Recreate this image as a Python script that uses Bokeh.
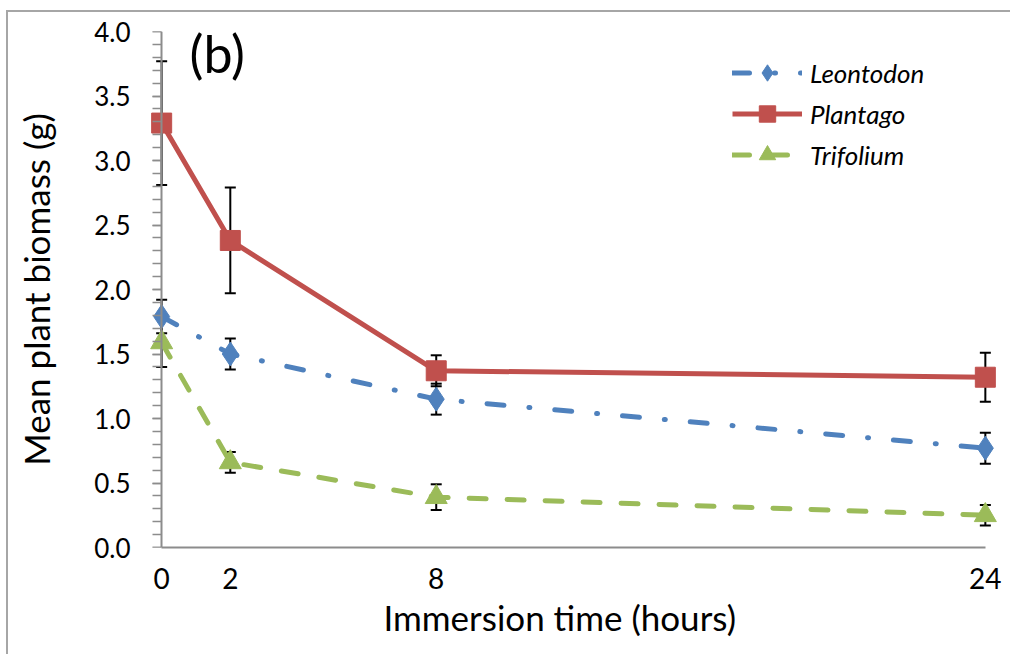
from bokeh.plotting import figure
from bokeh.models import (Range1d, FixedTicker, Whisker, ColumnDataSource, Legend,
                          LegendItem, Label, TeeHead, PrintfTickFormatter,
                          CustomJSTickFormatter, LinearAxis, Title)
from bokeh.embed import file_html
from bokeh.resources import INLINE

# ---- data ----
hours = [0, 2, 8, 24]
y_ticks = [0.0, 0.5, 1.0, 1.5, 2.0, 2.5, 3.0, 3.5, 4.0]

species = ["Leontodon", "Plantago", "Trifolium"]
leontodon = [1.79, 1.50, 1.15, 0.77]
leontodon_se = [0.13, 0.12, 0.12, 0.12]
plantago = [3.29, 2.38, 1.37, 1.32]
plantago_se = [0.48, 0.41, 0.12, 0.19]
trifolium = [1.59, 0.66, 0.39, 0.25]
trifolium_se = [0.19, 0.08, 0.10, 0.08]

x_title = "Immersion time (hours)"
y_title = "Mean plant biomass (g)"
panel_tag = "(b)"

# ---- styles ----
BLUE = "#4F81BD"
RED = "#C0504D"
GREEN = "#9BBB59"
AXIS_GRAY = "#8C8C8C"
FONT = "Lato"

p = figure(width=1004, height=644, output_backend="svg", toolbar_location=None,
           x_range=Range1d(-0.5, 24.5), y_range=Range1d(0, 4),
           min_border_left=136, min_border_right=10, min_border_top=19,
           min_border_bottom=109)
p.margin = (10, 0, 0, 6)
p.styles = {"border-left": "2px solid #A6A6A6", "border-top": "2px solid #A6A6A6"}
p.outline_line_color = None
p.xgrid.visible = False
p.ygrid.visible = False

minor = [i / 10 for i in range(41)]

# y axis: labels + title only (sits at frame edge)
ya = p.yaxis[0]
ya.ticker = FixedTicker(ticks=y_ticks, minor_ticks=[])
ya.formatter = PrintfTickFormatter(format="%.1f")
ya.axis_line_color = None
ya.major_tick_line_color = None
ya.minor_tick_line_color = None
ya.major_tick_in = 0
ya.major_tick_out = 0
ya.major_label_standoff = 14
ya.major_label_text_font = FONT
ya.major_label_text_font_size = "26px"
ya.major_label_text_color = "black"
ya.axis_label = y_title
ya.axis_label_text_font = FONT
ya.axis_label_text_font_size = "35px"
ya.axis_label_text_font_style = "normal"
ya.axis_label_text_color = "black"
ya.axis_label_standoff = 34

# y axis line + ticks at x = 0
ya2 = LinearAxis(fixed_location=0, ticker=FixedTicker(ticks=y_ticks, minor_ticks=minor),
                 formatter=CustomJSTickFormatter(code="return ''"))
ya2.axis_line_color = AXIS_GRAY
ya2.axis_line_width = 2
ya2.major_tick_line_color = AXIS_GRAY
ya2.minor_tick_line_color = AXIS_GRAY
ya2.major_tick_line_width = 1.5
ya2.minor_tick_line_width = 1.5
ya2.major_tick_in = 9
ya2.major_tick_out = 0
ya2.minor_tick_in = 9
ya2.minor_tick_out = 0
ya2.major_label_standoff = 0
p.add_layout(ya2, "right")

# x axis
xa = p.xaxis[0]
xa.ticker = FixedTicker(ticks=hours, minor_ticks=[])
xa.bounds = (0, 24)
xa.axis_line_color = AXIS_GRAY
xa.axis_line_width = 2
xa.major_tick_in = 0
xa.major_tick_out = 0
xa.minor_tick_line_color = None
xa.major_label_standoff = 20
xa.major_label_text_font = FONT
xa.major_label_text_font_size = "28px"
xa.major_label_text_color = "black"

p.add_layout(Title(text=x_title, align="left", offset=239, standoff=4,
                   text_font=FONT, text_font_size="35px", text_font_style="normal",
                   text_color="black"), "below")

# error bars
for vals, se in [(leontodon, leontodon_se), (plantago, plantago_se), (trifolium, trifolium_se)]:
    src = ColumnDataSource(dict(x=hours,
                                upper=[v + e for v, e in zip(vals, se)],
                                lower=[v - e for v, e in zip(vals, se)]))
    w = Whisker(base="x", upper="upper", lower="lower", source=src,
                line_color="black", line_width=2, level="underlay",
                upper_head=TeeHead(size=11, line_color="black", line_width=2),
                lower_head=TeeHead(size=11, line_color="black", line_width=2))
    p.add_layout(w)

# series
l1 = p.line(hours, leontodon, line_color=BLUE, line_width=5,
            line_dash="17 25 1 25", line_cap="round")
m1 = p.scatter(hours, leontodon, marker="diamond", size=24, color=BLUE)
l2 = p.line(hours, plantago, line_color=RED, line_width=5)
m2 = p.scatter(hours, plantago, marker="square", size=20, color=RED)
l3 = p.line(hours, trifolium, line_color=GREEN, line_width=5,
            line_dash="17 21", line_cap="round")
m3 = p.scatter(hours, trifolium, marker="triangle", size=22, color=GREEN)

legend = Legend(items=[LegendItem(label=species[0], renderers=[l1, m1]),
                       LegendItem(label=species[1], renderers=[l2, m2]),
                       LegendItem(label=species[2], renderers=[l3, m3])],
                location=(588, 372), orientation="vertical")
legend.background_fill_alpha = 0
legend.border_line_color = None
legend.padding = 0
legend.margin = 0
legend.spacing = 0
legend.glyph_width = 70
legend.glyph_height = 41
legend.label_height = 41
legend.label_standoff = 8
legend.label_text_font = FONT
legend.label_text_font_style = "italic"
legend.label_text_font_size = "26px"
legend.label_text_color = "black"
p.add_layout(legend)

p.add_layout(Label(x=45, y=495, x_units="screen", y_units="screen", text=panel_tag,
                   text_font=FONT, text_font_size="52px", text_color="black",
                   text_baseline="middle"))

open("out.html", "w").write(file_html(p, INLINE))
